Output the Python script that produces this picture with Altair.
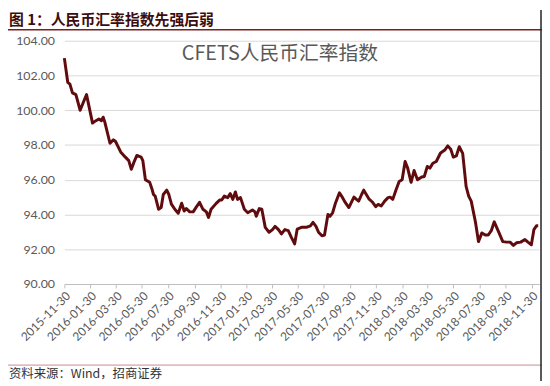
import altair as alt
import pandas as pd

# ---- data ----
dates = [
    "2015-11-30", "2015-12-08", "2015-12-13", "2015-12-19", "2015-12-27",
    "2016-01-06", "2016-01-15", "2016-01-21", "2016-02-04", "2016-02-12",
    "2016-02-19", "2016-02-25", "2016-02-29", "2016-03-04", "2016-03-16",
    "2016-03-24", "2016-03-29", "2016-04-10", "2016-04-21", "2016-04-29",
    "2016-05-05", "2016-05-11", "2016-05-18", "2016-05-28", "2016-06-01",
    "2016-06-07", "2016-06-17", "2016-06-22", "2016-06-26", "2016-06-30",
    "2016-07-08", "2016-07-14", "2016-07-19", "2016-07-27", "2016-08-01",
    "2016-08-07", "2016-08-15", "2016-08-23", "2016-08-31", "2016-09-06",
    "2016-09-11", "2016-09-19", "2016-09-27", "2016-10-05", "2016-10-12",
    "2016-10-20", "2016-10-28", "2016-11-02", "2016-11-08", "2016-11-20",
    "2016-11-28", "2016-12-03", "2016-12-09", "2016-12-17", "2016-12-23",
    "2016-12-29", "2017-01-04", "2017-01-09", "2017-01-16", "2017-01-25",
    "2017-02-02", "2017-02-13", "2017-02-19", "2017-02-22", "2017-03-01",
    "2017-03-07", "2017-03-15", "2017-03-24", "2017-04-01", "2017-04-07",
    "2017-04-15", "2017-04-22", "2017-04-30", "2017-05-08", "2017-05-15",
    "2017-05-23", "2017-05-29", "2017-06-08", "2017-06-19", "2017-06-29",
    "2017-07-05", "2017-07-12", "2017-07-18", "2017-07-26", "2017-08-01",
    "2017-08-09", "2017-08-14", "2017-08-20", "2017-08-27", "2017-09-05",
    "2017-09-10", "2017-09-19", "2017-09-27", "2017-10-03", "2017-10-09",
    "2017-10-15", "2017-10-20", "2017-10-27", "2017-11-01", "2017-11-07",
    "2017-11-13", "2017-11-21", "2017-11-29", "2017-12-05", "2017-12-12",
    "2017-12-20", "2017-12-28", "2018-01-02", "2018-01-08", "2018-01-16",
    "2018-01-23", "2018-01-30", "2018-02-06", "2018-02-12", "2018-02-20",
    "2018-02-27", "2018-03-07", "2018-03-17", "2018-03-23", "2018-03-30",
    "2018-04-05", "2018-04-12", "2018-04-20", "2018-04-30", "2018-05-10",
    "2018-05-17", "2018-05-24", "2018-05-30", "2018-06-06", "2018-06-13",
    "2018-06-21", "2018-06-29", "2018-07-05", "2018-07-11", "2018-07-21",
    "2018-07-28", "2018-08-05", "2018-08-13", "2018-08-20", "2018-08-27",
    "2018-09-03", "2018-09-13", "2018-09-23", "2018-10-02", "2018-10-10",
    "2018-10-18", "2018-10-25", "2018-11-04", "2018-11-14", "2018-11-21",
    "2018-11-29", "2018-12-05", "2018-12-11", "2018-12-15",
]
values = [
    103.00, 101.60, 101.50, 101.00, 100.90,
    100.00, 100.55, 100.90, 99.26, 99.40,
    99.50, 99.40, 99.60, 99.30, 98.10,
    98.30, 98.20, 97.60, 97.30, 97.10,
    96.60, 97.00, 97.40, 97.30, 97.10,
    96.00, 95.85, 95.50, 95.15, 95.06,
    94.30, 94.40, 95.15, 95.40, 95.15,
    94.60, 94.30, 94.07, 94.65, 94.20,
    94.34, 94.15, 94.15, 94.45, 94.70,
    94.30, 94.15, 93.83, 94.30, 94.64,
    94.83, 94.83, 95.06, 94.97, 95.20,
    94.87, 95.30, 94.87, 94.97, 94.30,
    94.10, 94.26, 94.15, 93.90, 94.34,
    94.30, 93.26, 92.98, 93.13, 93.32,
    93.13, 92.88, 93.13, 93.07, 92.70,
    92.31, 93.16, 93.26, 93.26, 93.35,
    93.55, 93.32, 92.98, 92.78, 92.82,
    94.00, 93.90, 94.10, 94.68, 95.25,
    95.06, 94.68, 94.40, 94.70, 95.00,
    94.87, 94.77, 95.15, 95.40, 95.15,
    94.90, 94.72, 94.45, 94.58, 94.49,
    94.77, 94.97, 95.00, 94.87, 95.44,
    95.90, 96.00, 97.05, 96.67, 95.85,
    96.53, 96.00, 96.16, 96.19, 96.76,
    96.67, 96.95, 97.05, 97.54, 97.71,
    97.95, 97.75, 97.30, 97.37, 97.90,
    97.52, 95.62, 95.06, 94.77, 93.55,
    92.44, 92.94, 92.82, 92.82, 93.07,
    93.58, 93.01, 92.44, 92.41, 92.41,
    92.22, 92.37, 92.41, 92.56, 92.41,
    92.26, 93.13, 93.35, 93.35,
]
tick_dates = [
    "2015-11-30", "2016-01-30", "2016-03-30", "2016-05-30", "2016-07-30",
    "2016-09-30", "2016-11-30", "2017-01-30", "2017-03-30", "2017-05-30",
    "2017-07-30", "2017-09-30", "2017-11-30", "2018-01-30", "2018-03-30",
    "2018-05-30", "2018-07-30", "2018-09-30", "2018-11-30",
]
x_domain = ["2015-11-30", "2018-12-17"]
y_ticks = [90, 92, 94, 96, 98, 100, 102, 104]
chart_title = "图 1：人民币汇率指数先强后弱"
inner_title = "CFETS人民币汇率指数"
source_note = "资料来源：Wind，招商证券"

df = pd.DataFrame({"date": dates, "value": values})


def dt(s):
    y, m, d = (int(p) for p in s.split("-"))
    return alt.DateTime(year=y, month=m, date=d, utc=True)


W, H = 480, 246
one = alt.Data(values=[{}])

line = alt.Chart(df).mark_line(
    color="#600c0f", strokeWidth=3, strokeJoin="round"
).encode(
    x=alt.X(
        "date:T",
        scale=alt.Scale(type="utc", domain=[dt(s) for s in x_domain]),
        axis=alt.Axis(
            values=[dt(s) for s in tick_dates],
            format="%Y-%m-%d",
            labelAngle=-45,
            labelOverlap=False,
            labelBound=False,
            title=None,
            grid=False,
            domainColor="#bfbfbf",
            tickColor="#bfbfbf",
            tickSize=4,
            labelColor="#595959",
            labelFontSize=12,
            labelFont="Lato",
            labelPadding=2,
        ),
    ),
    y=alt.Y(
        "value:Q",
        scale=alt.Scale(domain=[90, 104], nice=False, zero=False),
        axis=alt.Axis(
            values=y_ticks,
            format=".2f",
            title=None,
            domain=False,
            ticks=False,
            grid=True,
            gridColor="#d9d9d9",
            labelColor="#595959",
            labelFontSize=12.5,
            labelFont="Lato",
            labelPadding=10,
        ),
    ),
)

title_text = alt.Chart(one).mark_text(
    text=chart_title, align="left", baseline="middle",
    font="Noto Sans CJK SC", fontWeight="bold", fontSize=15, color="#3d0d0d",
).encode(x=alt.value(-56), y=alt.value(-21))

title_rule = alt.Chart(one).mark_rule(color="#7a1f1f", strokeWidth=1.5).encode(
    x=alt.value(-57), x2=alt.value(483), y=alt.value(-11)
)

inner_text = alt.Chart(one).mark_text(
    text=inner_title, align="center", baseline="middle",
    font="Noto Sans CJK SC", fontSize=20, color="#595959",
).encode(x=alt.value(218), y=alt.value(13))

bottom_rule = alt.Chart(one).mark_rule(color="#c98a8a", strokeWidth=1).encode(
    x=alt.value(-57), x2=alt.value(483), y=alt.value(328)
)

right_rule = alt.Chart(one).mark_rule(color="#222222", strokeWidth=1.5).encode(
    x=alt.value(482), y=alt.value(-31), y2=alt.value(344)
)

source_text = alt.Chart(one).mark_text(
    text=source_note, align="left", baseline="middle",
    font="Noto Sans CJK SC", fontSize=12.5, color="#333333",
).encode(x=alt.value(-56), y=alt.value(337))

chart = alt.layer(
    line, title_text, title_rule, inner_text, bottom_rule, right_rule, source_text
).properties(
    width=W, height=H,
    autosize=alt.AutoSizeParams(type="none"),
    padding={"left": 57, "top": 31, "right": 3, "bottom": 97},
).configure_view(stroke=None)

chart.save("out.html", embed_options={"renderer": "svg", "actions": False})
